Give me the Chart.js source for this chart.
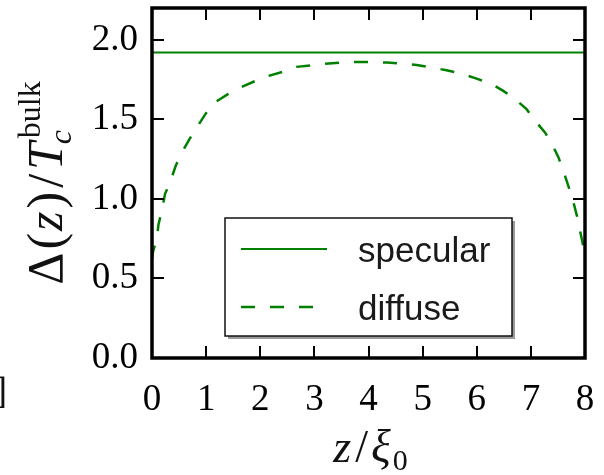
<!DOCTYPE html>
<html>
<head>
<meta charset="utf-8">
<script src="https://cdn.jsdelivr.net/npm/chart.js@4.4.0/dist/chart.umd.min.js"></script>
<style>
  html, body { margin: 0; padding: 0; background: #fff; }
  canvas { display: block; }
</style>
</head>
<body>
<canvas id="gap" width="604" height="475"></canvas>
<script>
// Tick positions
const xTicks = [0, 1, 2, 3, 4, 5, 6, 7, 8];
const yTicks = [0, 0.5, 1.0, 1.5, 2.0];

// Specular boundaries: flat gap profile
const specularZ = [0, 8];
const specularGap = [1.92, 1.92];

// Diffuse boundaries: gap suppressed near both walls
const diffuseZ = [0, 0.02, 0.09, 0.12, 0.19, 0.24, 0.35, 0.44, 0.55, 0.70, 0.83, 0.98, 1.13,
  1.41, 1.63, 1.90, 2.12, 2.43, 2.67, 2.98, 3.20, 3.50, 3.75, 4.06, 4.34, 4.61, 4.89, 5.17,
  5.44, 5.69, 5.97, 6.25, 6.49, 6.71, 6.92, 7.08, 7.26, 7.39, 7.51, 7.60, 7.69, 7.77, 7.85,
  7.90, 7.94, 7.98, 8.0];
const diffuseGap = [0.62, 0.67, 0.75, 0.84, 0.94, 1.03, 1.12, 1.21, 1.29, 1.38, 1.45, 1.53, 1.60,
  1.66, 1.70, 1.74, 1.77, 1.80, 1.83, 1.84, 1.85, 1.857, 1.861, 1.861, 1.857, 1.851, 1.842, 1.826,
  1.809, 1.790, 1.759, 1.727, 1.679, 1.627, 1.564, 1.491, 1.418, 1.345, 1.261, 1.177, 1.083, 1.0, 0.895,
  0.812, 0.749, 0.68, 0.63];

const GREEN = '#008000';
const SERIF = "'Liberation Serif', 'Times New Roman', serif";
const SANS = "'Liberation Sans', Arial, sans-serif";

const toPoints = (xs, ys) => xs.map((x, i) => ({ x, y: ys[i] }));

// Draw a run of text pieces with individual fonts and baseline shifts.
function pieceWidth(ctx, p) {
  if (p.stack) {
    return Math.max(...p.stack.map(s => { ctx.font = s.font; return ctx.measureText(s.t).width + (s.dx || 0); }));
  }
  ctx.font = p.font;
  return ctx.measureText(p.t).width + (p.kern || 0);
}
function drawPieces(ctx, pieces, cx, baseY) {
  const total = pieces.reduce((w, p) => w + pieceWidth(ctx, p), 0);
  let x = cx - total / 2;
  ctx.textAlign = 'left';
  ctx.textBaseline = 'alphabetic';
  for (const p of pieces) {
    const w = pieceWidth(ctx, p);
    if (p.stack) {
      for (const s of p.stack) { ctx.font = s.font; ctx.fillText(s.t, x + (s.dx || 0), baseY + s.dy); }
    } else {
      ctx.font = p.font;
      ctx.fillText(p.t, x + (p.pre || 0), baseY + (p.dy || 0));
    }
    x += w;
  }
}

const framePlugin = {
  id: 'frameAndLabels',
  afterDraw(chart) {
    const { ctx, chartArea: a, scales } = chart;
    const xs = scales.x, ys = scales.y;
    ctx.save();

    // inward tick marks on all four sides
    ctx.strokeStyle = '#000';
    ctx.lineWidth = 2;
    const tl = 12;
    ctx.beginPath();
    xTicks.forEach(v => {
      const px = Math.round(xs.getPixelForValue(v));
      ctx.moveTo(px, a.bottom); ctx.lineTo(px, a.bottom - tl);
      ctx.moveTo(px, a.top); ctx.lineTo(px, a.top + tl);
    });
    yTicks.forEach(v => {
      const py = Math.round(ys.getPixelForValue(v));
      ctx.moveTo(a.left, py); ctx.lineTo(a.left + tl, py);
      ctx.moveTo(a.right, py); ctx.lineTo(a.right - tl, py);
    });
    ctx.stroke();

    // plot frame
    ctx.lineWidth = 3.5;
    ctx.strokeRect(a.left, a.top, a.right - a.left, a.bottom - a.top);

    // legend box with shadow
    const bx = 225, by = 218, bw = 287, bh = 118;
    ctx.fillStyle = '#9a9a9a';
    ctx.fillRect(bx + 3, by + 3, bw, bh);
    ctx.fillStyle = '#fff';
    ctx.fillRect(bx, by, bw, bh);
    ctx.strokeStyle = '#111';
    ctx.lineWidth = 1.5;
    ctx.strokeRect(bx, by, bw, bh);

    const rows = [249, 307];
    chart.data.datasets.forEach((ds, i) => {
      const y = rows[i];
      ctx.strokeStyle = ds.borderColor;
      ctx.lineWidth = ds.borderWidth;
      ctx.setLineDash(ds.borderDash || []);
      ctx.beginPath();
      ctx.moveTo(241, y); ctx.lineTo(327, y);
      ctx.stroke();
      ctx.setLineDash([]);
      ctx.fillStyle = '#1a1a1a';
      ctx.font = `35px ${SANS}`;
      ctx.textAlign = 'left';
      ctx.textBaseline = 'alphabetic';
      ctx.fillText(ds.label, 358, y + 13);
    });

    ctx.fillStyle = '#111';
    // x axis title: z/ξ0
    const big = 46, small = 30;
    drawPieces(ctx, [
      { t: 'z', font: `italic ${big}px ${SERIF}`, kern: 3 },
      { t: '/', font: `${big}px ${SERIF}`, kern: 4, pre: 1 },
      { t: 'ξ', font: `italic ${big}px ${SERIF}`, kern: 2 },
      { t: '0', font: `${small}px ${SERIF}`, dy: 8 }
    ], (a.left + a.right) / 2 + 2, 462);

    // y axis title: Δ(z)/T_c^bulk, rotated
    ctx.save();
    ctx.translate(62, (a.top + a.bottom) / 2);
    ctx.rotate(-Math.PI / 2);
    const yb = 50, ys2 = 32;
    drawPieces(ctx, [
      { t: 'Δ', font: `${yb}px ${SERIF}`, kern: 3 },
      { t: '(', font: `${yb}px ${SERIF}`, kern: 2 },
      { t: 'z', font: `italic ${yb}px ${SERIF}`, kern: 3 },
      { t: ')', font: `${yb}px ${SERIF}`, kern: 2 },
      { t: '/', font: `${yb}px ${SERIF}`, kern: 6, pre: 2 },
      { t: 'T', font: `italic ${yb}px ${SERIF}`, kern: 0 },
      { stack: [
        { t: 'c', font: `italic ${ys2}px ${SERIF}`, dy: 9, dx: -2 },
        { t: 'bulk', font: `${ys2}px ${SERIF}`, dy: -22, dx: 4 }
      ] }
    ], 0, 0);
    ctx.restore();

    // bracket from a neighbouring panel edge
    ctx.font = `37px ${SERIF}`;
    ctx.textAlign = 'right';
    ctx.fillText(']', 7, 403);

    ctx.restore();
  }
};

new Chart(document.getElementById('gap'), {
  type: 'line',
  data: {
    datasets: [
      { label: 'specular', data: toPoints(specularZ, specularGap), borderColor: GREEN,
        borderWidth: 2, pointRadius: 0, tension: 0, fill: false },
      { label: 'diffuse', data: toPoints(diffuseZ, diffuseGap), borderColor: GREEN,
        borderWidth: 2.5, borderDash: [14, 15], pointRadius: 0, tension: 0, fill: false }
    ]
  },
  options: {
    responsive: false,
    animation: false,
    devicePixelRatio: 1,
    layout: { padding: { top: 8, right: 19, left: 0, bottom: 0 } },
    plugins: { legend: { display: false }, tooltip: { enabled: false } },
    scales: {
      x: {
        type: 'linear', min: 0, max: 8, position: 'bottom',
        afterBuildTicks: s => { s.ticks = xTicks.map(v => ({ value: v })); },
        afterFit: s => { s.height = 117; s.paddingLeft = 0; s.paddingRight = 0; },
        grid: { display: false, drawTicks: false },
        border: { display: false },
        ticks: { autoSkip: false, maxRotation: 0, padding: 20, color: '#000',
          font: { family: SERIF, size: 37, lineHeight: 1.2 },
          callback: v => String(v) }
      },
      y: {
        type: 'linear', min: 0, max: 2.2,
        afterBuildTicks: s => { s.ticks = yTicks.map(v => ({ value: v })); },
        afterFit: s => { s.width = 152; s.paddingTop = 0; s.paddingBottom = 0; },
        grid: { display: false, drawTicks: false },
        border: { display: false },
        ticks: { autoSkip: false, padding: 14, color: '#000',
          font: { family: SERIF, size: 37, lineHeight: 1.2 },
          callback: v => Number(v).toFixed(1) }
      }
    }
  },
  plugins: [framePlugin]
});
</script>
</body>
</html>
